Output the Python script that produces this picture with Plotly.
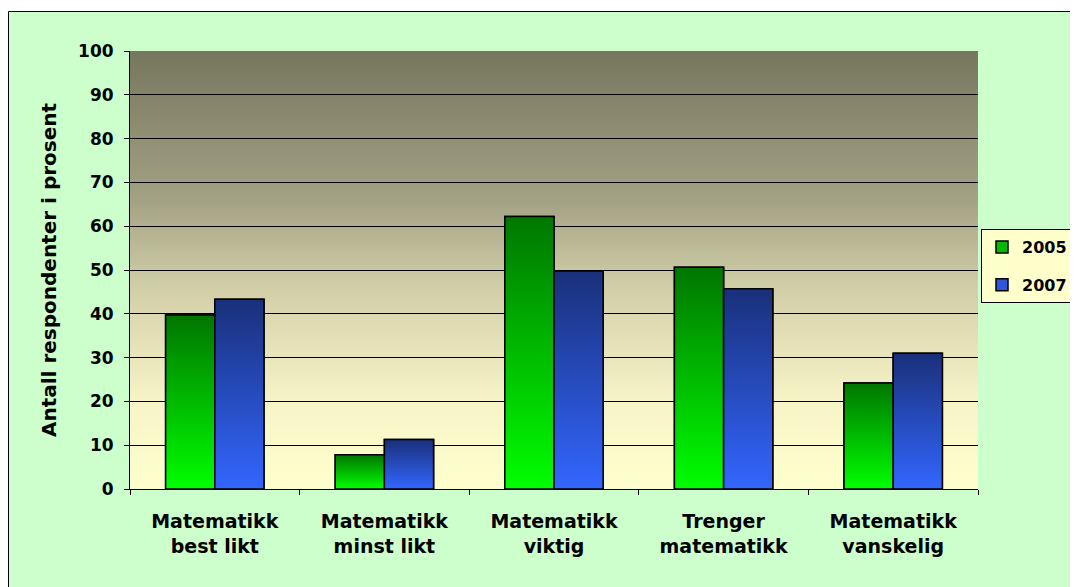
import zlib, struct, base64
import plotly.graph_objects as go

# ---- data ----
categories = ["Matematikk<br>best likt", "Matematikk<br>minst likt", "Matematikk<br>viktig",
              "Trenger<br>matematikk", "Matematikk<br>vanskelig"]
vals_2005 = [39.7, 7.8, 62.2, 50.6, 24.2]
vals_2007 = [43.3, 11.3, 49.8, 45.7, 31.0]
series_names = ["2005", "2007"]
y_ticks = list(range(0, 101, 10))
y_title = "Antall respondenter i prosent"

# ---- styling ----
FONT = "DejaVu Sans"
W = 0.29
green_scale = [[0, "#00FF00"], [1, "#007600"]]
blue_scale = [[0, "#3366FF"], [1, "#19307A"]]
bg_stops = [(0.0, "#FFFFCC"), (0.2, "#F7F4C8"), (0.36, "#E2DDB5"), (0.48, "#CDCBA5"),
            (0.66, "#A4A285"), (1.0, "#77775E")]


def hex2rgb(h):
    h = h.lstrip("#")
    return tuple(int(h[i:i + 2], 16) for i in (0, 2, 4))


def grad_png(stops, n=400):
    rows = b""
    for r in range(n):
        f = 1 - r / (n - 1)  # fraction from bottom
        for k in range(len(stops) - 1):
            if stops[k][0] <= f <= stops[k + 1][0]:
                a, b = stops[k], stops[k + 1]
                t = (f - a[0]) / (b[0] - a[0]) if b[0] > a[0] else 0
                ca, cb = hex2rgb(a[1]), hex2rgb(b[1])
                c = tuple(int(round(ca[j] + (cb[j] - ca[j]) * t)) for j in range(3))
                break
        rows += b"\x00" + bytes(c)

    def chunk(tag, data):
        return struct.pack(">I", len(data)) + tag + data + struct.pack(">I", zlib.crc32(tag + data) & 0xffffffff)

    png = b"\x89PNG\r\n\x1a\n" + chunk(b"IHDR", struct.pack(">IIBBBBB", 1, n, 8, 2, 0, 0, 0)) \
        + chunk(b"IDAT", zlib.compress(rows)) + chunk(b"IEND", b"")
    return "data:image/png;base64," + base64.b64encode(png).decode()


x_idx = list(range(len(categories)))
fig = go.Figure()

# real bars (data marks, legend)
fig.add_trace(go.Bar(x=x_idx, y=vals_2005, width=W, offset=-W, name=series_names[0],
                     marker=dict(color="#00BB00", line=dict(color="black", width=1.5)),
                     legendgroup="a", hoverinfo="skip"))
fig.add_trace(go.Bar(x=x_idx, y=vals_2007, width=W, offset=0, name=series_names[1],
                     marker=dict(color="#2F55DD", line=dict(color="black", width=1.5)),
                     legendgroup="b", hoverinfo="skip"))

# gradient faces on each bar, computed from the same data
for vals, off, scale in [(vals_2005, -W, green_scale), (vals_2007, 0, blue_scale)]:
    for i, v in zip(x_idx, vals):
        x0, x1 = i + off, i + off + W
        fig.add_trace(go.Scatter(x=[x0, x1, x1, x0, x0], y=[0, 0, v, v, 0], mode="lines",
                                 fill="toself", fillgradient=dict(type="vertical", colorscale=scale),
                                 line=dict(color="black", width=1.5), showlegend=False,
                                 hoverinfo="skip"))

# page has an 8px body margin; figure coords = page coords - 8
FW, FH = 1070, 579
OX, OY = 8, 8
L, R, T, B = 130 - OX, FW - (978 - OX), 51 - OY, FH - (489 - OY)
PW, PH = FW - L - R, FH - T - B


def px(xp):
    return (xp - OX - L) / PW


def py(yp):
    return (FH - B - (yp - OY)) / PH


fig.update_layout(
    width=FW, height=FH, autosize=False,
    margin=dict(l=L, r=R, t=T, b=B, pad=0, autoexpand=False),
    paper_bgcolor="#CCFFCC", plot_bgcolor="#FFFFCC",
    barmode="overlay", showlegend=True,
    font=dict(family=FONT, color="black", size=16, weight="bold"),
    images=[dict(source=grad_png(bg_stops), xref="x", yref="y", x=-0.5, y=100,
                 sizex=5, sizey=100, sizing="stretch", layer="below", xanchor="left", yanchor="top")],
    shapes=[
        dict(type="rect", xref="paper", yref="paper", x0=px(0), x1=px(1100), y0=py(11), y1=py(0),
             fillcolor="white", line=dict(width=0), layer="below"),
        dict(type="line", xref="paper", yref="paper", x0=px(8.5), x1=px(1100), y0=py(11.5), y1=py(11.5),
             line=dict(color="black", width=1), layer="above"),
        dict(type="line", xref="paper", yref="paper", x0=px(8.5), x1=px(8.5), y0=py(11.5), y1=py(600),
             line=dict(color="black", width=1), layer="above"),
    ],
    legend=dict(x=px(981), y=py(229), xanchor="left", yanchor="top", bgcolor="#FFFFCC",
                bordercolor="black", borderwidth=1, tracegroupgap=14,
                font=dict(family=FONT, size=16, weight="bold", color="black")),
    xaxis=dict(range=[-0.5, 4.5], tickmode="array", tickvals=x_idx, ticktext=categories,
               ticks="", showline=True, linecolor="black", linewidth=1, showgrid=False,
               zeroline=False, ticklabelstandoff=15,
               tickfont=dict(family=FONT, size=19, weight="bold", color="black"),
               minor=dict(tickmode="array", tickvals=[k - 0.5 for k in range(len(categories) + 1)],
                          ticks="outside", ticklen=5, tickcolor="black", showgrid=False)),
    yaxis=dict(range=[0, 100], tickmode="array", tickvals=y_ticks, ticks="outside", ticklen=5,
               tickcolor="black", showline=True, linecolor="black", linewidth=1,
               showgrid=True, gridcolor="black", gridwidth=1, zeroline=False,
               ticklabelstandoff=7,
               tickfont=dict(family=FONT, size=17, weight="bold", color="black"),
               title=dict(text=y_title, standoff=16,
                          font=dict(family=FONT, size=20, weight="bold", color="black"))),
)

fig.write_html("out.html",
               post_script="document.documentElement.style.overflow='hidden';"
                           "document.body.style.overflow='hidden';")
